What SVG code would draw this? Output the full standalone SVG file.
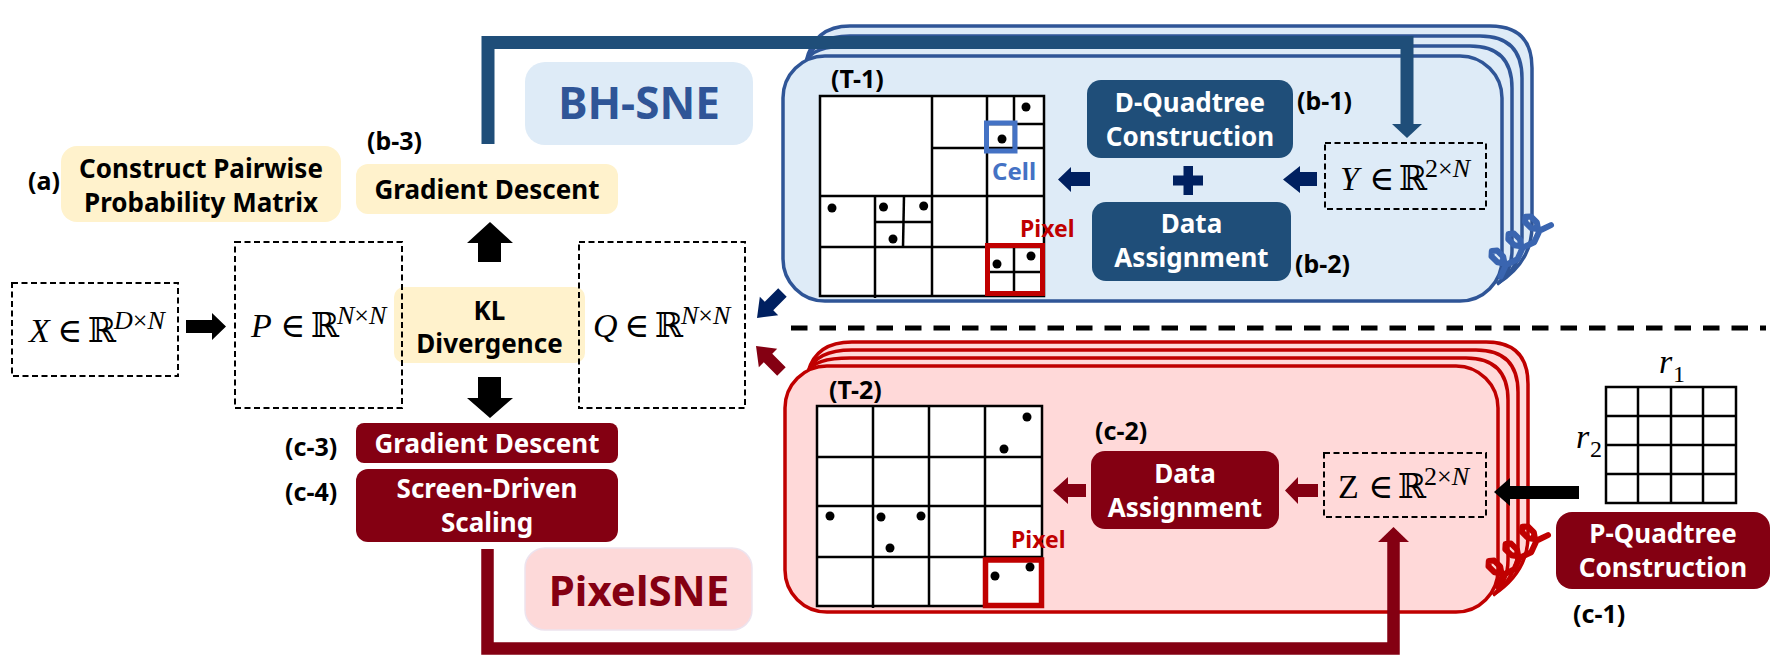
<svg xmlns="http://www.w3.org/2000/svg" width="1784" height="670" viewBox="0 0 1784 670">
<style>
.lbl{font-family:"Noto Sans","Open Sans",sans-serif;font-weight:bold;font-size:25px;fill:#000}
.nt{font-family:"Noto Sans","Open Sans",sans-serif;font-weight:bold;font-size:26px;fill:#fff;text-anchor:middle}
.bt{font-family:"Noto Sans","Open Sans",sans-serif;font-weight:bold;font-size:26px;fill:#000;text-anchor:middle}
.m{font-family:"Liberation Serif","DejaVu Serif",serif;font-size:34px;fill:#000}
.i{font-style:italic}
.sym{font-family:"DejaVu Serif",serif}
.sup{font-size:26px}
.dash{fill:none;stroke:#000;stroke-width:2;stroke-dasharray:6 3.5}
.g line{stroke:#000;stroke-width:2.5}
.g rect.o{fill:#fff;stroke:#000;stroke-width:2.5}
.bp{fill:#DEEBF7;stroke:#2F5597;stroke-width:3.5}
.rp{fill:#FFD9D9;stroke:#C00000;stroke-width:3.5}
.db{fill:#1F4E79}
.dr{fill:#840012}
.dot{fill:#000}
.coil{fill:none;stroke-width:6;stroke-linejoin:round;stroke-linecap:round}
</style>

<!-- BH-SNE panel stack -->
<g id="bh-panel">
<path class="bp" d="M806,62 Q814,26 850,26 L1490,26 Q1532,26 1532,68 L1532,226 Q1532,262 1497,284"/>
<path class="bp" d="M806,62 Q814,36 850,36 L1480,36 Q1522,36 1522,78 L1522,238 Q1522,266 1497,284"/>
<path class="bp" d="M806,62 Q812,46 848,46 L1470,46 Q1512,46 1512,88 L1512,250 Q1512,272 1497,284"/>
<rect class="bp" x="783" y="56" width="719" height="245" rx="42"/>
</g>

<!-- PixelSNE panel stack -->
<g id="px-panel">
<path class="rp" d="M808,372 Q816,342 852,342 L1486,342 Q1528,342 1528,384 L1528,536 Q1528,572 1493,595"/>
<path class="rp" d="M808,372 Q816,350 852,350 L1476,350 Q1518,350 1518,392 L1518,548 Q1518,576 1493,595"/>
<path class="rp" d="M808,372 Q814,358 850,358 L1466,358 Q1508,358 1508,400 L1508,560 Q1508,582 1493,595"/>
<rect class="rp" x="785" y="366" width="713" height="246" rx="42"/>
</g>

<!-- coils -->
<g id="coils">
<polyline class="coil" stroke="#3A65B0" points="1500.6,276.4 1505.1,266.8 1503.2,256.6 1497.2,250.6 1491.8,251 1491.5,256.4 1497.6,262.3 1507.8,264 1517.4,259.3 1521.9,249.6 1520,239.5 1514,233.5 1508.6,233.9 1508.3,239.3 1514.4,245.2 1524.6,246.9 1534.2,242.2 1538.7,232.5 1536.8,222.4 1530.8,216.4 1525.4,216.8 1525.1,222.2 1531.2,228.1 1541.4,229.8 1551,225.1"/>
<polyline class="coil" stroke="#C00000" transform="translate(-3,310)" points="1500.6,276.4 1505.1,266.8 1503.2,256.6 1497.2,250.6 1491.8,251 1491.5,256.4 1497.6,262.3 1507.8,264 1517.4,259.3 1521.9,249.6 1520,239.5 1514,233.5 1508.6,233.9 1508.3,239.3 1514.4,245.2 1524.6,246.9 1534.2,242.2 1538.7,232.5 1536.8,222.4 1530.8,216.4 1525.4,216.8 1525.1,222.2 1531.2,228.1 1541.4,229.8 1551,225.1"/>
</g>

<!-- left part -->
<g id="construct">
<rect x="61" y="146" width="280" height="76" rx="16" fill="#FFF2CC"/>
<text class="bt" x="201" y="178">Construct Pairwise</text>
<text class="bt" x="201" y="212">Probability Matrix</text>
<text class="lbl" x="28" y="190">(a)</text>
</g>

<g id="gd-b3">
<rect x="356" y="164" width="262" height="50" rx="12" fill="#FFF2CC"/>
<text class="bt" x="487" y="199">Gradient Descent</text>
<text class="lbl" x="367" y="150">(b-3)</text>
</g>

<g id="bh-label">
<rect x="525" y="62" width="228" height="83" rx="20" fill="#DEEBF7"/>
<text x="639" y="119" text-anchor="middle" font-family="Noto Sans, Open Sans, sans-serif" font-weight="bold" font-size="44" fill="#2F5597">BH-SNE</text>
</g>

<g id="px-label">
<rect x="525" y="548" width="227" height="82" rx="20" fill="#FDD9D9" stroke="#EDE3EE" stroke-width="1.5"/>
<text x="639" y="606" text-anchor="middle" font-family="Noto Sans, Open Sans, sans-serif" font-weight="bold" font-size="42" fill="#840012">PixelSNE</text>
</g>

<g id="kl">
<rect x="394" y="287" width="191" height="76" rx="10" fill="#FFF2CC"/>
<text class="bt" x="489.5" y="320">KL</text>
<text class="bt" x="489.5" y="353">Divergence</text>
</g>

<g id="xbox">
<rect class="dash" x="12" y="283" width="166" height="93" fill="#fff"/>
<text class="m" y="342"><tspan x="29" class="i">X</tspan><tspan x="57" class="sym">∈</tspan><tspan x="88" class="sym">ℝ</tspan><tspan x="114" dy="-13" class="sup"><tspan class="i">D</tspan>×<tspan class="i">N</tspan></tspan></text>
</g>

<g id="pbox">
<rect class="dash" x="235" y="242" width="167" height="166"/>
<text class="m" y="337"><tspan x="251" class="i">P</tspan><tspan x="280" class="sym">∈</tspan><tspan x="311" class="sym">ℝ</tspan><tspan x="337" dy="-13" class="sup"><tspan class="i">N</tspan>×<tspan class="i">N</tspan></tspan></text>
</g>

<g id="qbox">
<rect class="dash" x="579" y="242" width="166" height="166"/>
<text class="m" y="337"><tspan x="593" class="i">Q</tspan><tspan x="624" class="sym">∈</tspan><tspan x="655" class="sym">ℝ</tspan><tspan x="681" dy="-13" class="sup"><tspan class="i">N</tspan>×<tspan class="i">N</tspan></tspan></text>
</g>

<g id="gd-c3">
<rect class="dr" x="356" y="423" width="262" height="40" rx="8"/>
<text class="nt" x="487" y="453">Gradient Descent</text>
<text class="lbl" x="285" y="456">(c-3)</text>
</g>

<g id="sds-c4">
<rect class="dr" x="356" y="469" width="262" height="73" rx="12"/>
<text class="nt" x="487" y="498">Screen-Driven</text>
<text class="nt" x="487" y="532">Scaling</text>
<text class="lbl" x="285" y="501">(c-4)</text>
</g>

<!-- T-1 quadtree -->
<g id="t1" class="g">
<text class="lbl" x="831" y="88">(T-1)</text>
<rect class="o" x="820" y="96" width="224" height="200"/>
<line x1="932" y1="96" x2="932" y2="296"/>
<line x1="820" y1="196" x2="1044" y2="196"/>
<line x1="987" y1="96" x2="987" y2="196"/>
<line x1="932" y1="148" x2="1044" y2="148"/>
<line x1="1014" y1="96" x2="1014" y2="148"/>
<line x1="987" y1="124" x2="1044" y2="124"/>
<line x1="875" y1="196" x2="875" y2="298"/>
<line x1="820" y1="247" x2="932" y2="247"/>
<line x1="904" y1="196" x2="903" y2="247"/>
<line x1="875" y1="222" x2="932" y2="222"/>
<line x1="987" y1="196" x2="987" y2="296"/>
<line x1="932" y1="247" x2="1044" y2="247"/>
<line x1="1014" y1="247" x2="1014" y2="296"/>
<line x1="987" y1="272" x2="1044" y2="272"/>
<rect x="986.5" y="123" width="28.5" height="28" fill="none" stroke="#4472C4" stroke-width="5"/>
<rect x="987.5" y="245.5" width="55" height="48" fill="none" stroke="#C00000" stroke-width="5"/>
<circle class="dot" cx="1026" cy="107" r="4.5"/>
<circle class="dot" cx="1002" cy="139" r="4.5"/>
<circle class="dot" cx="832" cy="208" r="4.5"/>
<circle class="dot" cx="883.5" cy="207" r="4.5"/>
<circle class="dot" cx="923.7" cy="206" r="4.5"/>
<circle class="dot" cx="893" cy="239" r="4.5"/>
<circle class="dot" cx="997" cy="264" r="4.5"/>
<circle class="dot" cx="1031" cy="256" r="4.5"/>
<text x="992" y="180" font-family="Noto Sans, Open Sans, sans-serif" font-weight="bold" font-size="24" fill="#4472C4">Cell</text>
<text x="1020" y="237" font-family="Noto Sans, Open Sans, sans-serif" font-weight="bold" font-size="23" fill="#C00000">Pixel</text>
</g>

<g id="dquad-b1">
<rect class="db" x="1087" y="80" width="206" height="78" rx="14"/>
<text class="nt" x="1190" y="112">D-Quadtree</text>
<text class="nt" x="1190" y="146">Construction</text>
<text class="lbl" x="1297" y="110">(b-1)</text>
</g>

<g id="plus">
<rect x="1183.5" y="166" width="9.5" height="29" fill="#002060"/>
<rect x="1173" y="175.5" width="30" height="10" fill="#002060"/>
</g>

<g id="da-b2">
<rect class="db" x="1092" y="202" width="199" height="79" rx="14"/>
<text class="nt" x="1191.5" y="233">Data</text>
<text class="nt" x="1191.5" y="267">Assignment</text>
<text class="lbl" x="1295" y="273">(b-2)</text>
</g>

<g id="ybox">
<rect class="dash" x="1325" y="143" width="161" height="66" fill="#fff"/>
<text class="m" y="190"><tspan x="1340" class="i">Y</tspan><tspan x="1369" class="sym">∈</tspan><tspan x="1399" class="sym">ℝ</tspan><tspan x="1425" dy="-13" class="sup">2×<tspan class="i">N</tspan></tspan></text>
</g>

<!-- T-2 grid -->
<g id="t2" class="g">
<text class="lbl" x="829" y="399">(T-2)</text>
<rect class="o" x="817" y="406" width="225" height="200"/>
<line x1="873" y1="406" x2="873" y2="608"/>
<line x1="929" y1="406" x2="929" y2="606"/>
<line x1="985" y1="406" x2="985" y2="606"/>
<line x1="817" y1="457" x2="1042" y2="457"/>
<line x1="817" y1="506" x2="1042" y2="506"/>
<line x1="817" y1="557" x2="1042" y2="557"/>
<rect x="985.5" y="560" width="56" height="45.5" fill="none" stroke="#C00000" stroke-width="5.5"/>
<circle class="dot" cx="1027" cy="417" r="4.5"/>
<circle class="dot" cx="1004" cy="449" r="4.5"/>
<circle class="dot" cx="830" cy="516" r="4.5"/>
<circle class="dot" cx="881" cy="517" r="4.5"/>
<circle class="dot" cx="921" cy="516" r="4.5"/>
<circle class="dot" cx="890" cy="548" r="4.5"/>
<circle class="dot" cx="995" cy="576" r="4.5"/>
<circle class="dot" cx="1030" cy="567" r="4.5"/>
<text x="1011" y="548" font-family="Noto Sans, Open Sans, sans-serif" font-weight="bold" font-size="23" fill="#C00000">Pixel</text>
</g>

<g id="da-c2">
<rect class="dr" x="1091" y="451" width="188" height="78" rx="14"/>
<text class="nt" x="1185" y="483">Data</text>
<text class="nt" x="1185" y="517">Assignment</text>
<text class="lbl" x="1095" y="440">(c-2)</text>
</g>

<g id="zbox">
<rect class="dash" x="1324" y="453" width="162" height="64" fill="#fff"/>
<text class="m" y="498"><tspan x="1338">Z</tspan><tspan x="1368" class="sym">∈</tspan><tspan x="1398" class="sym">ℝ</tspan><tspan x="1424" dy="-13" class="sup">2×<tspan class="i">N</tspan></tspan></text>
</g>

<g id="rgrid" class="g">
<rect class="o" x="1606" y="387" width="130" height="116"/>
<line x1="1638" y1="387" x2="1638" y2="503"/>
<line x1="1671" y1="387" x2="1671" y2="503"/>
<line x1="1703" y1="387" x2="1703" y2="503"/>
<line x1="1606" y1="416" x2="1736" y2="416"/>
<line x1="1606" y1="445" x2="1736" y2="445"/>
<line x1="1606" y1="474" x2="1736" y2="474"/>
<text class="m" y="373" font-size="32"><tspan x="1659" class="i">r</tspan><tspan x="1673" y="382" font-size="24">1</tspan></text>
<text class="m" y="448" font-size="32"><tspan x="1576" class="i">r</tspan><tspan x="1590" y="457" font-size="24">2</tspan></text>
</g>

<g id="pquad-c1">
<rect class="dr" x="1556" y="512" width="214" height="77" rx="16"/>
<text class="nt" x="1663" y="543">P-Quadtree</text>
<text class="nt" x="1663" y="577">Construction</text>
<text class="lbl" x="1573" y="623">(c-1)</text>
</g>

<!-- connectors -->
<g id="connectors">
<line x1="791" y1="328" x2="1766" y2="328" stroke="#000" stroke-width="5" stroke-dasharray="16.5 12"/>
<path d="M488,144 L488,42.5 L1407,42.5 L1407,126" fill="none" stroke="#1F4E79" stroke-width="13"/>
<polygon points="1392,124 1422,124 1407,138" fill="#1F4E79"/>
<path d="M487.5,549 L487.5,648.5 L1393.5,648.5 L1393.5,540" fill="none" stroke="#840012" stroke-width="12.5"/>
<polygon points="1378,542 1409,542 1393.5,527" fill="#840012"/>
<polygon points="186,320 212,320 212,313 226,326.5 212,340 212,333 186,333" fill="#000"/>
<polygon points="490,222 513,243 501,243 501,262 478,262 478,243 467,243" fill="#000"/>
<polygon points="478,377 501,377 501,398 513,398 490,418 467,398 478,398" fill="#000"/>
<polygon transform="translate(757,318) rotate(-45)" points="0,0 17,-13 17,-6 36,-6 36,6 17,6 17,13" fill="#002060"/>
<polygon transform="translate(756,346) rotate(45)" points="0,0 17,-13 17,-6 36,-6 36,6 17,6 17,13" fill="#840012"/>
<polygon points="1090,172 1071,172 1071,167 1058,179.5 1071,192 1071,186 1090,186" fill="#002060"/>
<polygon points="1317,172 1300,172 1300,166 1283,179.5 1300,193 1300,186 1317,186" fill="#002060"/>
<polygon points="1086,484 1068,484 1068,477 1053,490.5 1068,504 1068,497 1086,497" fill="#840012"/>
<polygon points="1318,484 1298,484 1298,477 1285,490.5 1298,504 1298,497 1318,497" fill="#840012"/>
<polygon points="1579,486 1510,486 1510,478 1494,492 1510,506 1510,499 1579,499" fill="#000"/>
</g>
</svg>
